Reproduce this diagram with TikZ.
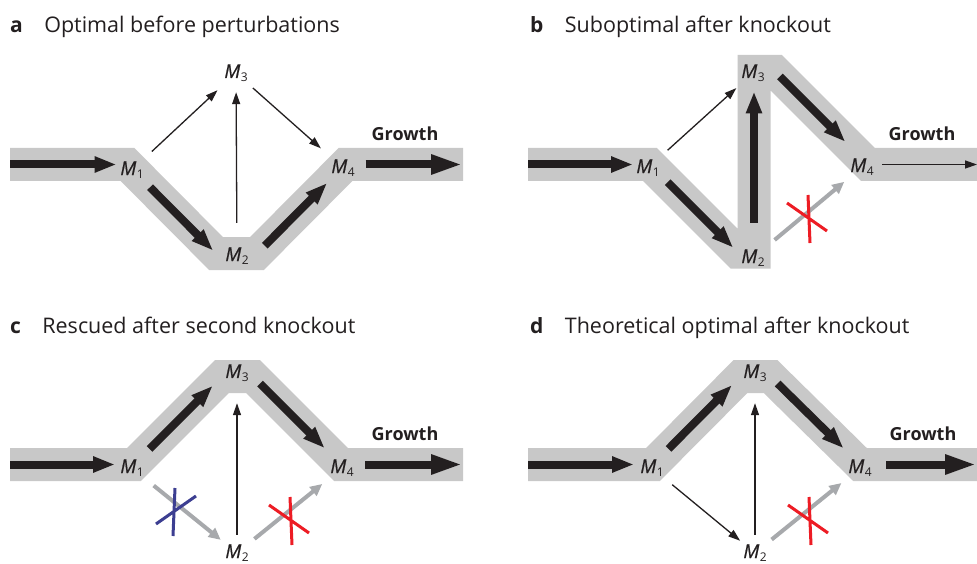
\documentclass[tikz,border=0pt]{standalone}
\usepackage{fontspec}
\setmainfont{Open Sans}
\newfontfamily\metfont{Open Sans}[FakeBold=0.7]
\usetikzlibrary{arrows.meta, positioning}
\definecolor{cband}{RGB}{200,200,200}
\definecolor{cink}{RGB}{35,31,32}
\definecolor{cgrey}{RGB}{167,169,172}
\definecolor{cred}{RGB}{237,28,36}
\definecolor{cblue}{RGB}{60,62,145}
\newcommand{\mlab}[1]{{\metfont\itshape M}\kern0.5pt\raisebox{-3.5pt}{\fontsize{12}{13}\selectfont #1}}
\tikzset{
  band/.style={draw=cband, line width=33pt, line join=miter},
  fat/.style={-{Triangle[length=22pt, width=15pt]}, line width=8pt, draw=cink},
  bigtip/.style={-{Triangle[length=32pt, width=18pt]}},
  arr/.style={-{Triangle[length=12pt, width=8pt]}, line width=1.3pt, draw=cink},
  ghost/.style={-{Triangle[length=12pt, width=11pt]}, line width=4pt, draw=cgrey},
  met/.style={inner sep=0pt, minimum width=26pt, minimum height=19pt,
              font=\fontsize{19}{21}\selectfont, text=cink},
  grw/.style={font=\bfseries\fontsize{18}{21}\selectfont, text=cink},
  tag/.style={font=\bfseries\fontsize{21}{25}\selectfont, inner sep=0pt, text=cink},
  ttl/.style={font=\fontsize{21.5}{25}\selectfont, inner sep=0pt, text=cink},
  ko/.pic={\draw[line width=3pt] (-21,-16) -- (19,12) (0,-24) -- (2,24);},
}

\begin{document}
\begin{tikzpicture}[x=1pt, y=-1pt]
\path[fill=white, use as bounding box] (0,0) rectangle (977,564);

% ---------- a: optimal ----------
\begin{scope}
\node[tag, anchor=base west] (la) at (10,33) {a};
\node[ttl, base right=21pt of la] (ta) {Optimal before perturbations};
\coordinate (pa-in) at (10,164.5);
\coordinate (pa-1) at (127.5,164.5);
\coordinate (pa-2l) at (216,253.5);
\coordinate (pa-2r) at (257,253.5);
\coordinate (pa-4) at (345.5,164.5);
\coordinate (pa-out) at (463,164.5);
\draw[band] (pa-in) -- (pa-1) -- (pa-2l) -- (pa-2r) -- (pa-4) -- (pa-out);
\node[met] (ma1) at (132,170) {\mlab{1}};
\node[met] (ma2) at (237,256) {\mlab{2}};
\node[met] (ma3) at (236,73) {\mlab{3}};
\node[met] (ma4) at (343,168) {\mlab{4}};
\node[grw] (ga) at (405,134) {Growth};
\draw[fat, shorten >=11pt] (pa-in) -- (pa-1);
\draw[fat, shorten <=32pt, shorten >=4pt] (pa-1) -- (pa-2l);
\draw[fat, shorten <=11pt, shorten >=26pt] (pa-2r) -- (pa-4);
\draw[fat, bigtip, shorten <=20pt] (pa-4) -- (pa-out);
\draw[arr, shorten <=13pt, shorten >=11pt] (ma1) -- (ma3);
\draw[arr, shorten <=8pt, shorten >=15pt] (ma3) -- (ma4);
\draw[arr, shorten <=23.5pt, shorten >=9.5pt] (ma2) -- (ma3);
\end{scope}

% ---------- b: knockout ----------
\begin{scope}[shift={(518,0)}]
\node[tag, anchor=base west] (lb) at (12,33) {b};
\node[ttl, base right=21pt of lb] (tb) {Suboptimal after knockout};
\coordinate (pb-in) at (10,164.5);
\coordinate (pb-1) at (132,164.5);
\coordinate (pb-2l) at (219.5,252);
\coordinate (pb-2r) at (236,252);
\coordinate (pb-3l) at (236,71.5);
\coordinate (pb-3r) at (257,71.5);
\coordinate (pb-4) at (350,164.5);
\coordinate (pb-out) at (459,164.5);
\draw[band] (pb-in) -- (pb-1) -- (pb-2l) -- (pb-2r) -- (pb-3l) -- (pb-3r) -- (pb-4) -- (pb-out);
\node[met] (mb1) at (130,168) {\mlab{1}};
\node[met] (mb2) at (235,258) {\mlab{2}};
\node[met] (mb3) at (235,73) {\mlab{3}};
\node[met] (mb4) at (344,167) {\mlab{4}};
\node[grw] (gb) at (404,134) {Growth};
\draw[fat, shorten >=17pt] (pb-in) -- (pb-1);
\draw[fat, shorten <=25pt, shorten >=6pt] (pb-1) -- (pb-2l);
\draw[fat, shorten <=29pt, shorten >=20pt] (pb-2r) -- (pb-3l);
\draw[fat, shorten <=7pt, shorten >=32pt] (pb-3r) -- (pb-4);
\draw[arr, shorten <=14pt] (pb-4) -- (pb-out);
\draw[arr, shorten <=12pt, shorten >=8pt] (mb1) -- (mb3);
\draw[ghost, shorten <=13pt, shorten >=8pt] (mb2) -- (mb4);
\pic[cred] at (290,219) {ko};
\end{scope}

% ---------- c: rescued ----------
\begin{scope}[shift={(0,300)}]
\node[tag, anchor=base west] (lc) at (10,33) {c};
\node[ttl, base right=21pt of lc] (tc) {Rescued after second knockout};
\coordinate (pc-in) at (10,164.5);
\coordinate (pc-1) at (134,164.5);
\coordinate (pc-3l) at (222,76.5);
\coordinate (pc-3r) at (253,76.5);
\coordinate (pc-4) at (341,164.5);
\coordinate (pc-out) at (463,164.5);
\draw[band] (pc-in) -- (pc-1) -- (pc-3l) -- (pc-3r) -- (pc-4) -- (pc-out);
\node[met] (mc1) at (132,168) {\mlab{1}};
\node[met] (mc2) at (237,253) {\mlab{2}};
\node[met] (mc3) at (237,73) {\mlab{3}};
\node[met] (mc4) at (342,168) {\mlab{4}};
\node[grw] (gc) at (405,134) {Growth};
\draw[fat, shorten >=19pt] (pc-in) -- (pc-1);
\draw[fat, shorten <=22pt, shorten >=13pt] (pc-1) -- (pc-3l);
\draw[fat, shorten <=10pt, shorten >=23pt] (pc-3r) -- (pc-4);
\draw[fat, bigtip, shorten <=24pt] (pc-4) -- (pc-out);
\draw[arr, shorten <=8.5pt, shorten >=20.5pt] (mc2) -- (mc3);
\draw[ghost, shorten <=12.5pt, shorten >=5.5pt] (mc1) -- (mc2);
\draw[ghost, shorten <=7pt, shorten >=10pt] (mc2) -- (mc4);
\pic[cblue, xscale=-1] at (175,212) {ko};
\pic[cred] at (290,221) {ko};
\end{scope}

% ---------- d: theoretical ----------
\begin{scope}[shift={(518,300)}]
\node[tag, anchor=base west] (ld) at (12,33) {d};
\node[ttl, base right=21pt of ld] (td) {Theoretical optimal after knockout};
\coordinate (pd-in) at (10,164.5);
\coordinate (pd-1) at (135,164.5);
\coordinate (pd-3l) at (222.5,76.5);
\coordinate (pd-3r) at (252.5,76.5);
\coordinate (pd-4) at (342,164.5);
\coordinate (pd-out) at (459,164.5);
\draw[band] (pd-in) -- (pd-1) -- (pd-3l) -- (pd-3r) -- (pd-4) -- (pd-out);
\node[met] (md1) at (134,168) {\mlab{1}};
\node[met] (md2) at (237,253) {\mlab{2}};
\node[met] (md3) at (237,73) {\mlab{3}};
\node[met] (md4) at (342,168) {\mlab{4}};
\node[grw] (gd) at (405,134) {Growth};
\draw[fat, shorten >=19pt] (pd-in) -- (pd-1);
\draw[fat, shorten <=22pt, shorten >=12pt] (pd-1) -- (pd-3l);
\draw[fat, shorten <=10pt, shorten >=23pt] (pd-3r) -- (pd-4);
\draw[fat, bigtip, shorten <=26pt] (pd-4) -- (pd-out);
\draw[arr, shorten <=8.5pt, shorten >=20.5pt] (md2) -- (md3);
\draw[arr, shorten <=11pt, shorten >=4pt] (md1) -- (md2);
\draw[ghost, shorten <=6pt, shorten >=8.5pt] (md2) -- (md4);
\pic[cred] at (291,221) {ko};
\end{scope}

\end{tikzpicture}
\end{document}
